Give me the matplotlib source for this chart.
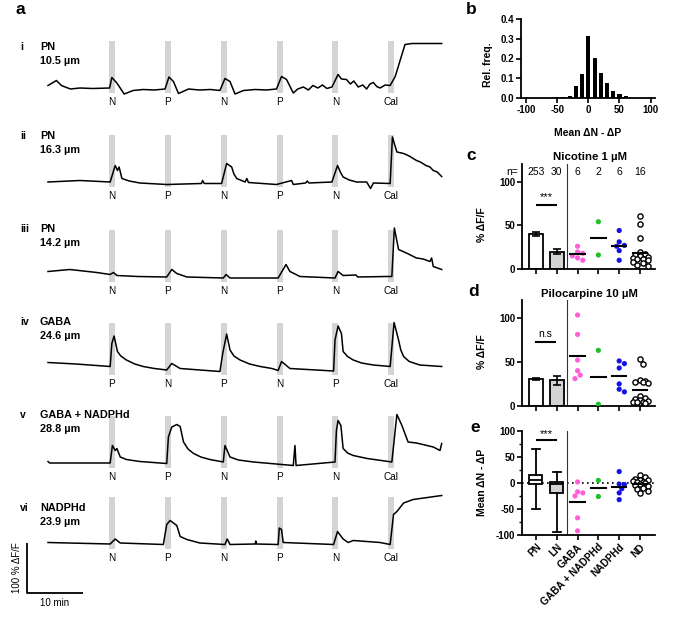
import matplotlib
matplotlib.use("Agg")
import matplotlib.pyplot as plt
import numpy as np

plt.rcParams['font.family'] = ['Liberation Sans', 'DejaVu Sans']
plt.rcParams['axes.unicode_minus'] = False

W, H = 685, 620

# ---------------- data: panel a (time in min, dF/F in %) ----------------
trace_i = [(0, 5), (1.5, 15), (2.4, 5), (4, -2), (5.7, 0), (8, -1), (11.0, 0), (11.4, 21),
           (12.3, 10), (13.6, -12), (15.2, -5), (17, -3), (19, -4), (20.9, -2), (21.6, 22),
           (22.4, 13), (23.3, -11), (25.1, -2), (27, -4), (29, -3), (30.7, -5), (31.6, 19),
           (32.5, 13), (33.4, -12), (34.9, -5), (37, -3), (39, -4), (40.8, -2), (41.7, 23),
           (42.6, 17), (43.8, -10), (44.6, -2), (45.6, 2), (46.5, -4), (47.3, 5), (48.2, 0),
           (49, 6), (49.8, -1), (50.7, 2), (51.8, 27), (52.4, 18), (53.3, 17), (54.0, 8),
           (54.6, 14), (55.4, 2), (56.2, 6), (56.9, -2), (57.5, 8), (58.1, 11), (58.7, 3),
           (59.3, 0), (60.2, 6), (61.1, 5), (62.0, 23), (63.75, 87), (65, 89), (70.3, 89)]
trace_ii = [(0, 0), (5.7, 3), (11.1, 0), (12.0, 33), (12.4, 23), (12.7, 30), (13.2, 7),
            (14.5, 2), (16.4, -2), (21.2, -5), (27.4, -3), (27.6, 3), (27.9, -3), (31.0, -3),
            (31.9, 37), (32.8, 30), (33.2, 16), (33.7, 7), (35.2, 0), (35.5, 7), (35.8, -1),
            (40.8, -5), (43.5, 3), (43.8, -5), (46, -2), (46.3, 2), (46.6, -2), (50.7, 0),
            (51.7, 33), (52.2, 20), (52.7, 10), (53.8, 4), (55.1, 0), (56.9, 0), (57.6, -13),
            (58.1, -2), (61.1, -3), (61.5, 90), (62.3, 60), (63.5, 57), (64.5, 52), (65.8, 43),
            (66.5, 40), (67.5, 33), (68.2, 30), (68.8, 23), (69.5, 20), (70.3, 11)]
trace_iii = [(0, 11), (3.9, 15), (8.7, 9), (11.1, 5), (11.7, 9), (12.3, 3), (16, 1), (21.2, 0),
             (22.1, 15), (23.0, 7), (24.8, 0), (31.3, -2), (31.8, 5), (32.5, -2), (41.1, -2),
             (42.5, 25), (43.2, 11), (45.0, 1), (51.25, -2), (51.8, 11), (52.7, 3), (55, 4),
             (55.3, 0), (60.5, 1), (61.4, 1), (61.85, 98), (62.6, 55), (64, 48), (65.8, 38),
             (67, 36), (68.2, 31), (68.5, 38), (68.8, 21), (70.3, 15)]
trace_iv = [(0, 15), (5, 12), (11.1, 7), (11.4, 53), (11.8, 68), (12.4, 37), (13.0, 28),
            (14.0, 20), (15.5, 12), (17.0, 7), (19, 3), (21.2, 0), (22.1, 13), (23.6, 3),
            (30.7, -3), (31.2, 33), (31.9, 72), (32.5, 40), (33.2, 28), (34.3, 20), (36, 12),
            (37.9, 7), (40, 3), (41.1, -1), (41.7, 17), (43.2, 3), (51.0, -2), (51.25, 60),
            (51.8, 88), (52.4, 73), (52.7, 37), (53.5, 27), (54.5, 20), (56, 14), (58.1, 10),
            (61.1, 7), (61.8, 95), (62.6, 60), (63.0, 40), (63.5, 27), (64.5, 17), (66.4, 10),
            (70.3, 7)]
trace_v = [(0, 3), (0.3, 0), (11.1, 0), (11.5, 35), (12.0, 25), (12.3, 29), (12.9, 12),
           (14, 7), (16.4, 3), (21.2, -1), (21.5, 52), (22.1, 72), (23.0, 77), (23.6, 73),
           (24.2, 42), (25, 28), (26.0, 19), (27.3, 12), (28.9, 7), (31.3, 2), (31.6, 35),
           (32.0, 25), (32.5, 12), (34, 6), (36.7, 2), (43.8, -5), (44.1, 35), (44.3, -5),
           (51.25, 2), (51.5, 65), (51.8, 85), (52.3, 75), (52.7, 29), (53.5, 20), (54.5, 15),
           (57, 9), (61.4, 2), (62.3, 97), (63.2, 75), (64.3, 42), (65.8, 40), (68.8, 32),
           (70.0, 25), (70.3, 39)]
trace_vi = [(0, 3), (11.1, 0), (12.0, 10), (12.9, 2), (20.6, -1), (21.2, 39), (21.8, 47),
            (23.0, 37), (23.6, 15), (24.8, 9), (27.1, 2), (31.6, -1), (32.0, 10), (32.5, -1),
            (37, 0), (37.1, 6), (37.2, 0), (41.1, -1), (41.3, 32), (41.7, 29), (42.0, 3),
            (51.0, -1), (51.7, 25), (52.7, 10), (53.6, 3), (54.5, 7), (59.3, 3), (61.1, -1),
            (61.7, 59), (62.3, 65), (63.5, 82), (65.2, 89), (70.3, 97)]

row_numerals = ["i", "ii", "iii", "iv", "v", "vi"]
row_types = ["PN", "PN", "PN", "GABA", "GABA + NADPHd", "NADPHd"]
row_depths = ["10.5 µm", "16.3 µm", "14.2 µm", "24.6 µm", "28.8 µm", "23.9 µm"]
stim_onsets = [10.9, 20.9, 30.9, 40.9, 50.8, 60.8]
stim_NP = ["N", "P", "N", "P", "N", "Cal"]
stim_PN = ["P", "N", "P", "N", "P", "Cal"]
row_stims = [stim_NP, stim_NP, stim_NP, stim_PN, stim_NP, stim_NP]

# ---------------- data: panel b ----------------
hist_centers = [-50, -40, -30, -20, -10, 0, 10, 20, 30, 40, 50, 60, 70]
hist_freq = [0.006, 0.007, 0.012, 0.059, 0.122, 0.315, 0.205, 0.127, 0.075, 0.036, 0.019, 0.008, 0.002]

# ---------------- data: panels c-e ----------------
groups = ["PN", "LN", "GABA", "GABA + NADPHd", "NADPHd", "ND"]
n_cells = ["253", "30", "6", "2", "6", "16"]
group_colors = ["#ff5fd6", "#22bf2a", "#1212e8", "none"]

nic_bar_mean = [40, 20]
nic_bar_sem = [2, 3]
nic_gaba = [26, 19.5, 18, 15, 12.6, 10]
nic_gaba_nadph = [54, 16]
nic_nadph = [44, 31, 27, 26, 21, 10]
nic_nd = [61, 51, 36, 19, 17, 16, 15, 14, 13, 12, 11, 10, 8, 7, 5, 3]

pilo_bar_mean = [30.5, 29]
pilo_bar_sem = [1.5, 5]
pilo_gaba = [103, 81, 52, 40, 35, 31]
pilo_gaba_nadph = [63, 2]
pilo_nadph = [51, 48, 43, 25, 19, 16]
pilo_nd = [53, 48, 29, 28, 27, 27, 26, 11, 9, 8, 7, 6, 5, 5, 4, 3]

diff_pn_box = dict(whislo=-50, q1=-2, med=6.5, q3=16, whishi=66)
diff_ln_box = dict(whislo=-94, q1=-19.5, med=-2, q3=1.3, whishi=21)
diff_gaba = [2, -17, -19, -25, -67, -92]
diff_gaba_nadph = [5, -26]
diff_nadph = [22, -2, -3, -11, -19, -32]
diff_nd = [15, 12, 8, 6, 5, 3, 2, 1, 0, -2, -4, -6, -9, -12, -16, -20]


def rect(left, top, right, bottom):
    return [left / W, 1 - bottom / H, (right - left) / W, (bottom - top) / H]


def ftext(px, py, s, **kw):
    fig.text(px / W, 1 - py / H, s, **kw)


def swarm(vals, y_px, d=5.0, x_px=20.8):
    """small beeswarm offsets (x units); dots may overlap when crowded"""
    vals = np.asarray(vals, float)
    offs = np.zeros(len(vals))
    placed = []
    cands = [0, 2.6, -2.6, 5.2, -5.2, 7.5, -7.5]
    for i in np.argsort(-vals):
        y = vals[i] * y_px
        best, best_d = 0, -1
        for x in cands:
            md = min([np.hypot(x - a, y - b) for a, b in placed] + [99])
            if md >= d * 0.95:
                best = x
                break
            if md > best_d:
                best, best_d = x, md
        placed.append((best, y))
        offs[i] = best / x_px
    return offs


fig = plt.figure(figsize=(W / 100, H / 100), dpi=100)

# ================= panel a =================
ax = fig.add_axes([0, 0, 460 / W, 1])
ax.set_xlim(-48 / 5.6, (460 - 48) / 5.6)
ax.set_ylim(0, 1240)
ax.axis("off")

traces = [trace_i, trace_ii, trace_iii, trace_iv, trace_v, trace_vi]
row_base = [1064, 876, 686, 500, 314, 152]
label_py = [47, 136, 229, 322, 415, 508]
for k, tr in enumerate(traces):
    off = row_base[k]
    t = [p[0] for p in tr]
    v = [p[1] + off for p in tr]
    ax.bar(stim_onsets, 104, bottom=off - 10, width=1.0, align="edge",
           color="#d4d4d4", zorder=0)
    ax.plot(t, v, color="black", lw=1.1, zorder=2)
    for x0, s in zip(stim_onsets, row_stims[k]):
        ax.text(x0 + 0.5, off - 28, s, ha="center", va="center", fontsize=7.2)
    ftext(20, label_py[k], row_numerals[k], fontsize=7.5, fontweight="bold", va="center")
    ftext(40, label_py[k], row_types[k], fontsize=7.8, fontweight="bold", va="center")
    ftext(40, label_py[k] + 14, row_depths[k], fontsize=7.8, fontweight="bold", va="center")

# scale bar
ax.plot([-3.75, -3.75, 6.25], [154, 54, 54], color="black", lw=1.3, solid_capstyle="butt")
ax.text(-5.6, 104, "100 % ΔF/F", rotation=90, ha="center", va="center", fontsize=7)
ax.text(1.25, 34, "10 min", ha="center", va="center", fontsize=7)

ftext(16, 10, "a", fontsize=12.5, fontweight="bold", va="center")


def prism(ax):
    for s in ["top", "right"]:
        ax.spines[s].set_visible(False)
    for s in ["left", "bottom"]:
        ax.spines[s].set_linewidth(1.3)
    ax.tick_params(direction="out", width=1.2, length=3.5, labelsize=7, pad=1.5)
    for lab in ax.get_xticklabels() + ax.get_yticklabels():
        lab.set_fontweight("bold")


# ================= panel b =================
axb = fig.add_axes(rect(521, 19, 655, 98))
axb.bar(hist_centers, hist_freq, width=6.5, color="black")
axb.set_xlim(-108, 107)
axb.set_ylim(0, 0.4)
axb.set_xticks([-100, -50, 0, 50, 100])
axb.set_yticks([0, 0.1, 0.2, 0.3, 0.4])
axb.set_yticklabels(["0.0", "0.1", "0.2", "0.3", "0.4"])
prism(axb)
axb.set_ylabel("Rel. freq.", fontsize=7.5, fontweight="bold")
axb.yaxis.set_label_coords(-0.21, 0.42)
axb.set_xlabel("Mean ΔN - ΔP", fontsize=7.5, fontweight="bold")
axb.xaxis.set_label_coords(0.5, -0.38)
ftext(466, 9, "b", fontsize=12.5, fontweight="bold", va="center")

# ================= panels c-e =================
pos = np.arange(len(groups))
ypx_cd = 0.87
ypx_e = 0.52


def dots(ax, vals_list, ypx):
    for j, vals in enumerate(vals_list):
        x = pos[2 + j] + swarm(vals, ypx)
        if group_colors[j] == "none":
            ax.scatter(x, vals, s=14, facecolors="white", edgecolors="black",
                       linewidths=1.0, zorder=3)
        else:
            ax.scatter(x, vals, s=14, color=group_colors[j], edgecolors="none", zorder=3)
        m = np.mean(vals)
        ax.plot([pos[2 + j] - 0.35, pos[2 + j] + 0.35], [m, m], color="black",
                lw=1.5, zorder=4)


def bar_panel(ax, means, sems, vals_list):
    ax.bar(pos[:2], means, width=0.66, color=["white", "#d3d3d3"],
           edgecolor="black", linewidth=1.3, zorder=2)
    ax.errorbar(pos[:2], means, yerr=sems, fmt="none", ecolor="black",
                elinewidth=1.2, capsize=3, capthick=1.2, zorder=3)
    dots(ax, vals_list, ypx_cd)
    ax.axvline(1.5, color="#333333", lw=0.8)
    ax.set_xlim(-0.67, 5.72)
    ax.set_ylim(0, 120)
    ax.set_yticks([0, 50, 100])
    ax.set_xticks(pos)
    ax.set_xticklabels([])
    prism(ax)
    ax.set_ylabel("% ΔF/F", fontsize=7.5, fontweight="bold")


axc = fig.add_axes(rect(522, 164, 655, 269))
bar_panel(axc, nic_bar_mean, nic_bar_sem, [nic_gaba, nic_gaba_nadph, nic_nadph, nic_nd])
axc.yaxis.set_label_coords(-0.26, 0.42)
axc.plot([0.03, 0.95], [73, 73], color="black", lw=1.5)
axc.text(0.5, 77, "***", ha="center", va="bottom", fontsize=8)
axc.text(-1.15, 111, "n=", ha="center", va="center", fontsize=7.5)
for j, n in enumerate(n_cells):
    axc.text(pos[j], 111, n, ha="center", va="center", fontsize=7.5)
ftext(590, 157, "Nicotine 1 µM", fontsize=8.2, fontweight="bold", ha="center", va="center")
ftext(466, 155, "c", fontsize=12.5, fontweight="bold", va="center")

axd = fig.add_axes(rect(522, 300, 655, 406))
bar_panel(axd, pilo_bar_mean, pilo_bar_sem, [pilo_gaba, pilo_gaba_nadph, pilo_nadph, pilo_nd])
axd.yaxis.set_label_coords(-0.26, 0.51)
axd.plot([0.0, 0.92], [73, 73], color="black", lw=1.5)
axd.text(0.46, 76, "n.s", ha="center", va="bottom", fontsize=7.5)
ftext(589, 294, "Pilocarpine 10 µM", fontsize=8.2, fontweight="bold", ha="center", va="center")
ftext(468, 291, "d", fontsize=12.5, fontweight="bold", va="center")

axe = fig.add_axes(rect(522, 431, 655, 535))
boxes = [dict(diff_pn_box, label="PN"), dict(diff_ln_box, label="LN")]
bp = axe.bxp(boxes, positions=pos[:2], widths=0.62, patch_artist=True, showfliers=False,
             boxprops=dict(linewidth=1.3, edgecolor="black"),
             whiskerprops=dict(linewidth=1.3), capprops=dict(linewidth=1.3),
             medianprops=dict(color="black", linewidth=1.3), capwidths=0.36)
for patch, c in zip(bp["boxes"], ["white", "#d3d3d3"]):
    patch.set_facecolor(c)
dots(axe, [diff_gaba, diff_gaba_nadph, diff_nadph, diff_nd], ypx_e)
axe.axhline(0, color="black", lw=1.2, ls=(0, (1, 2)), zorder=1)
axe.axvline(1.5, color="#333333", lw=0.8)
axe.plot([0.05, 0.95], [82, 82], color="black", lw=1.5)
axe.text(0.5, 85, "***", ha="center", va="bottom", fontsize=8)
axe.set_xlim(-0.67, 5.72)
axe.set_ylim(-100, 100)
axe.set_yticks([-100, -50, 0, 50, 100])
axe.set_yticks([-75, -25, 25, 75], minor=True)
axe.set_xticks(pos)
axe.set_xticklabels(groups, rotation=45, ha="right", rotation_mode="anchor")
prism(axe)
axe.tick_params(axis="y", which="minor", direction="out", width=1.0, length=2)
axe.tick_params(axis="x", labelsize=7.3)
axe.set_ylabel("Mean ΔN - ΔP", fontsize=7.5, fontweight="bold")
axe.yaxis.set_label_coords(-0.26, 0.51)
ftext(470, 427, "e", fontsize=12.5, fontweight="bold", va="center")

fig.savefig("out.png", dpi=100)
